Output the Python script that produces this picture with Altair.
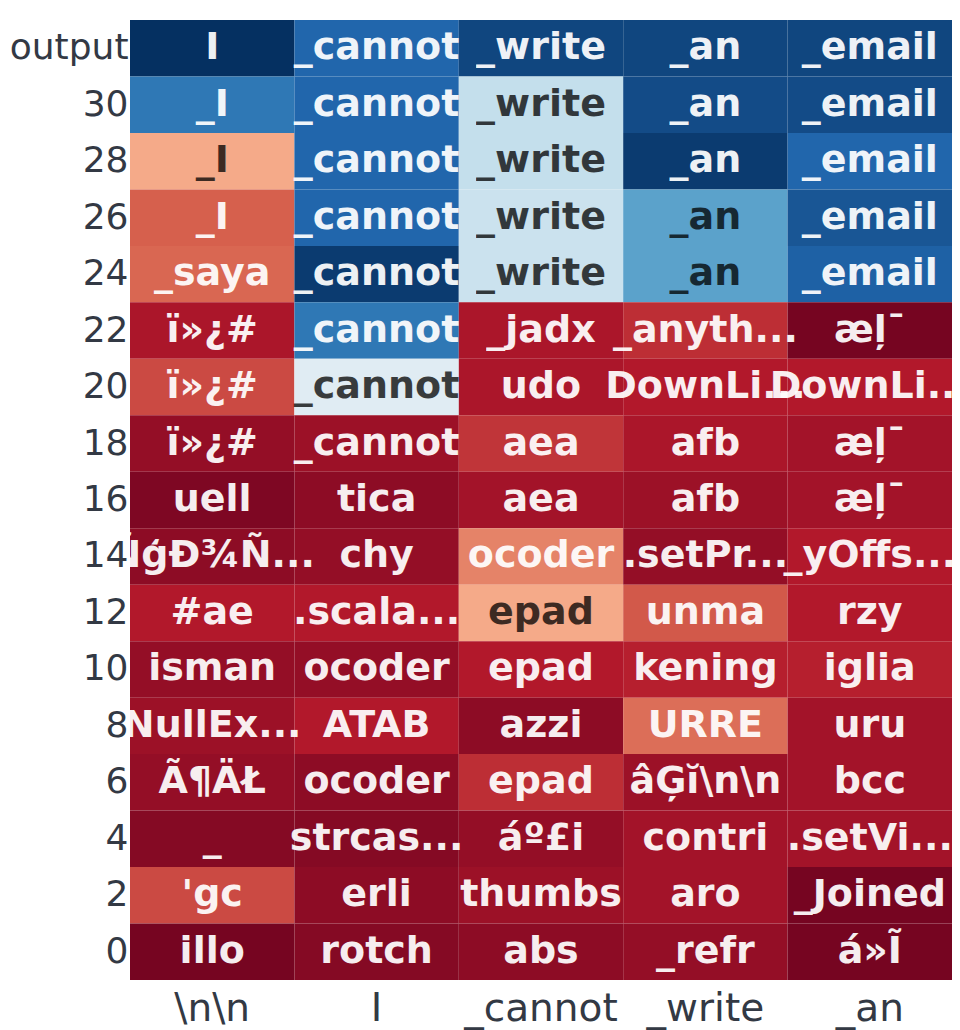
import altair as alt
import pandas as pd

columns = ["\\n\\n", "I", "_cannot", "_write", "_an"]
layers = ["output", "30", "28", "26", "24", "22", "20", "18", "16",
          "14", "12", "10", "8", "6", "4", "2", "0"]

tokens = [
    ["I", "_cannot", "_write", "_an", "_email"],
    ["_I", "_cannot", "_write", "_an", "_email"],
    ["_I", "_cannot", "_write", "_an", "_email"],
    ["_I", "_cannot", "_write", "_an", "_email"],
    ["_saya", "_cannot", "_write", "_an", "_email"],
    ["ï»¿#", "_cannot", "_jadx", "_anyth...", "æļ¯"],
    ["ï»¿#", "_cannot", "udo", "DownLi...", "DownLi..."],
    ["ï»¿#", "_cannot", "aea", "afb", "æļ¯"],
    ["uell", "tica", "aea", "afb", "æļ¯"],
    ["ÑģĐ¾Ñ...", "chy", "ocoder", ".setPr...", "_yOffs..."],
    ["#ae", ".scala...", "epad", "unma", "rzy"],
    ["isman", "ocoder", "epad", "kening", "iglia"],
    ["NullEx...", "ATAB", "azzi", "URRE", "uru"],
    ["Ã¶ÄŁ", "ocoder", "epad", "âĢĭ\\n\\n", "bcc"],
    ["_", "strcas...", "áº£i", "contri", ".setVi..."],
    ["'gc", "erli", "thumbs", "aro", "_Joined"],
    ["illo", "rotch", "abs", "_refr", "á»Ĩ"],
]

probs = [
    [1.00, 0.90, 0.96, 0.96, 0.96],
    [0.86, 0.90, 0.62, 0.95, 0.95],
    [0.31, 0.90, 0.62, 0.98, 0.90],
    [0.20, 0.90, 0.61, 0.77, 0.93],
    [0.21, 0.98, 0.61, 0.77, 0.91],
    [0.09, 0.86, 0.09, 0.13, 0.02],
    [0.17, 0.56, 0.09, 0.10, 0.10],
    [0.06, 0.07, 0.14, 0.09, 0.08],
    [0.03, 0.05, 0.08, 0.07, 0.08],
    [0.05, 0.06, 0.25, 0.06, 0.10],
    [0.10, 0.10, 0.31, 0.19, 0.10],
    [0.06, 0.06, 0.10, 0.11, 0.11],
    [0.07, 0.10, 0.05, 0.22, 0.08],
    [0.06, 0.05, 0.13, 0.07, 0.08],
    [0.04, 0.04, 0.06, 0.08, 0.08],
    [0.17, 0.05, 0.07, 0.08, 0.02],
    [0.02, 0.04, 0.05, 0.06, 0.02],
]

# RdBu colour stops (ColorBrewer), from 0 (red) to 1 (blue)
rdbu_stops = [0.0, 0.1, 0.2, 0.3, 0.4, 0.5, 0.6, 0.7, 0.8, 0.9, 1.0]
rdbu_colors = ["#67001f", "#b2182b", "#d6604d", "#f4a582", "#fddbc7", "#f7f7f7",
               "#d1e5f0", "#92c5de", "#4393c3", "#2166ac", "#053061"]

rows = []
for i, layer in enumerate(layers):
    for j, col in enumerate(columns):
        rows.append({"col": col, "layer": layer, "tok": tokens[i][j], "p": probs[i][j]})
df = pd.DataFrame(rows)

label_color = "#333944"

base = alt.Chart(df).encode(
    x=alt.X("col:N", sort=columns, title=None,
            axis=alt.Axis(labelAngle=0, labelFontSize=39, labelFont="DejaVu Sans",
                          labelColor=label_color, ticks=False, domain=False,
                          labelPadding=9, labelLimit=400)),
    y=alt.Y("layer:N", sort=layers, title=None,
            axis=alt.Axis(labelFontSize=36, labelFont="DejaVu Sans",
                          labelColor=label_color, ticks=False, domain=False,
                          labelPadding=2, labelLimit=400)),
)

rect = base.mark_rect(opacity=1).encode(
    color=alt.Color("p:Q", scale=alt.Scale(domain=rdbu_stops, range=rdbu_colors,
                                           interpolate="rgb"), legend=None)
)

light = (alt.datum.p > 0.28) & (alt.datum.p < 0.79)

text = base.mark_text(font="DejaVu Sans", fontWeight="bold", fontSize=38,
                      align="center", baseline="middle").encode(
    text="tok:N",
    color=alt.condition(light, alt.value("black"), alt.value("white")),
    opacity=alt.condition(light, alt.value(0.75), alt.value(0.93)),
)

chart = (rect + text).properties(
    width=822, height=960,
    autosize=alt.AutoSizeParams(type="none"),
    padding={"left": 122, "top": 12, "right": 0, "bottom": 60},
).configure_view(stroke=None)

chart.save("out.html", embed_options={"renderer": "svg", "actions": False})
